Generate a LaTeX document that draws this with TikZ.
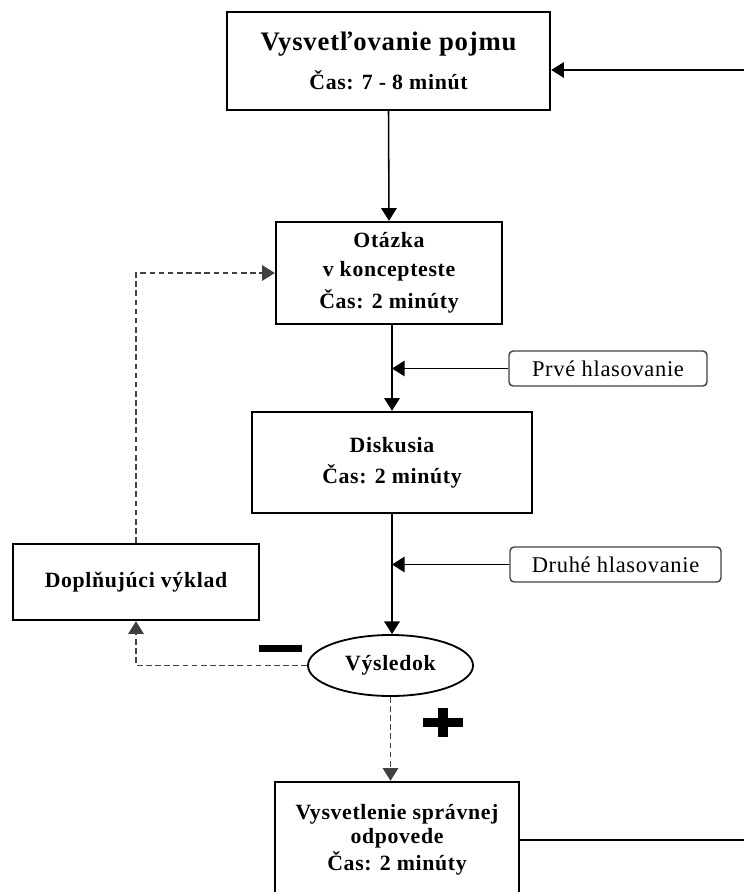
\documentclass[tikz,border=0pt]{standalone}
\usepackage{fontspec}
\setmainfont{Liberation Serif}[LetterSpace=3]
\usepackage{tikz}
\usetikzlibrary{arrows.meta, shapes.geometric, positioning}

\tikzset{
  krok/.style={draw, line width=1.7pt, align=center, inner sep=2pt,
    font=\bfseries\fontsize{15.5}{20}\selectfont},
  hlas/.style={draw=black!75, rounded corners=3pt, line width=1pt,
    minimum height=0.875cm, font=\fontsize{16}{18}\selectfont},
  spoj/.style={line width=1.1pt, -{Triangle[length=9pt,width=11pt]}},
  cesta/.style={spoj, draw=black!75, line width=0.9pt, dash pattern=on 4pt off 2.5pt}
}

\begin{document}
\begin{tikzpicture}[x=0.025cm, y=-0.025cm]

% Page frame (pixel grid of the sheet)
\useasboundingbox (0,0) rectangle (744,892);

% Main steps
\node (pojem) [krok, minimum width=8.075cm, minimum height=2.45cm] at (388.5,61)
  {{\fontsize{19}{24}\selectfont Vysvetľovanie pojmu}\\[8pt] Čas: 7 - 8 minút};
\node (otazka) [krok, minimum width=5.65cm, minimum height=2.55cm] at (389,273)
  {Otázka\\ v koncepteste\\[3pt] Čas: 2 minúty};
\node (diskusia) [krok, minimum width=7cm, minimum height=2.525cm] at (392,462.5)
  {Diskusia\\[2pt] Čas: 2 minúty};
\node (doplnenie) [krok, minimum width=6.15cm, minimum height=1.9cm] at (136,582)
  {Doplňujúci výklad};
\node (vysledok) [draw, ellipse, line width=1.3pt, minimum width=4.125cm, minimum height=1.525cm,
  font=\bfseries\fontsize{15.5}{20}\selectfont] at (390.5,665.5) {Výsledok};
\node (vysvetlenie) [krok, minimum width=6.1cm, minimum height=2.9cm] at (397,840)
  {Vysvetlenie správnej\\[-3pt] odpovede\\[-1pt] Čas: 2 minúty};

% Voting
\node (prve) [hlas, minimum width=4.95cm] at (608,368.5) {Prvé hlasovanie};
\node (druhe) [hlas, minimum width=5.275cm] at (615.5,564.5) {Druhé hlasovanie};

% Return line (leaves the sheet on the right)
\coordinate (navrat) at (744,70);
\coordinate (odchod) at (744,840);

% Main flow
\draw[spoj] (pojem.south) -- (otazka.north);
\draw[spoj] (otazka.south -| diskusia.north) -- (diskusia.north);
\draw[spoj] (prve.west) -- (prve.west -| diskusia.north);
\draw[spoj] (diskusia.south) -- (diskusia.south |- vysledok.north);
\draw[spoj] (druhe.west) -- (druhe.west -| diskusia.south);

% Result branches
\draw[cesta] (vysledok.west) -| (doplnenie.south);
\draw[cesta] (doplnenie.north) |- (otazka.west);
\draw[cesta] (vysledok.south) -- (vysledok.south |- vysvetlenie.north);

% Signs
\fill (259,645) rectangle (302,652);
\fill (438,708) rectangle (448,737);
\fill (423,718) rectangle (463,727);

% Back to the start
\draw[line width=1.1pt] (vysvetlenie.east) -- (odchod);
\draw[spoj] (navrat) -- (navrat -| pojem.east);

\end{tikzpicture}
\end{document}
